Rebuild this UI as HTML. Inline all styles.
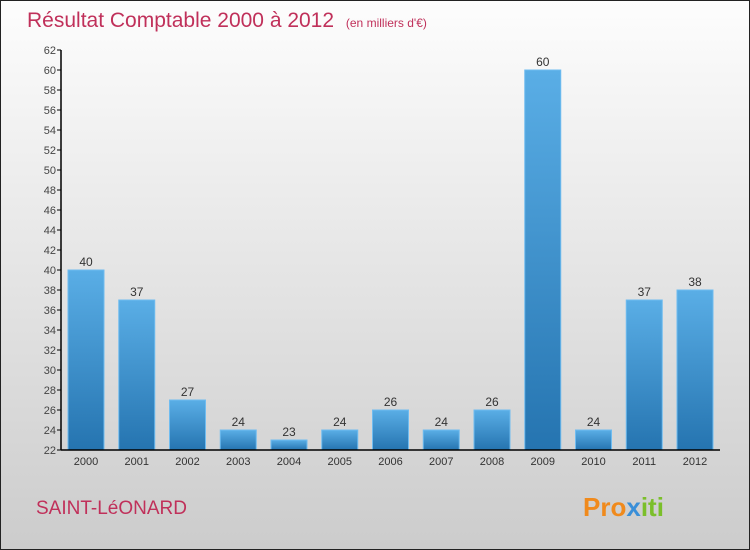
<!DOCTYPE html>
<html><head><meta charset="utf-8"><style>
body{margin:0;}
#wrap{position:relative;width:750px;height:550px;box-sizing:border-box;border:1px solid #222;background:linear-gradient(#fdfdfd,#cccccc);font-family:"Liberation Sans",sans-serif;overflow:hidden;}
</style></head><body>
<div id="wrap">
<svg id="c" width="750" height="550" style="position:absolute;left:-1px;top:-1px">
<defs><linearGradient id="g" x1="0" y1="0" x2="0" y2="1"><stop offset="0" stop-color="#5aaee6"/><stop offset="1" stop-color="#2574b0"/></linearGradient></defs>
<text x="27" y="27" font-size="21" fill="#c0305a">Résultat Comptable 2000 à 2012 <tspan font-size="12" dx="6">(en milliers d'€)</tspan></text>
<text x="36" y="514" font-size="19" fill="#c0305a">SAINT-LéONARD</text>
<text x="583" y="516" font-size="26" font-weight="bold" fill="#f08a1c">Pro<tspan fill="#3a8fd8">x</tspan><tspan fill="#7bbf2a">iti</tspan></text>
<g id="plot"></g>
</svg>
</div>
<script>
const categories=["2000","2001","2002","2003","2004","2005","2006","2007","2008","2009","2010","2011","2012"];
const values=[40,37,27,24,23,24,26,24,26,60,24,37,38];
const yTicks=[22,24,26,28,30,32,34,36,38,40,42,44,46,48,50,52,54,56,58,60,62];
const NS="http://www.w3.org/2000/svg";
const g=document.getElementById('plot');
const x0=61,yMin=22,yMax=62,yTop=50,yBot=450,step=50.75,bw=36;
const y=v=>yBot-(v-yMin)/(yMax-yMin)*(yBot-yTop);
const xc=i=>86+i*step;
function mk(t,a){const e=document.createElementNS(NS,t);for(const k in a)e.setAttribute(k,a[k]);g.appendChild(e);return e;}
yTicks.forEach(t=>{
  const l=mk('line',{x1:x0-4,x2:x0,y1:y(t),y2:y(t),stroke:'#000'});
  
  
  const tx=mk('text',{x:x0-5,y:y(t)+4,'font-size':11,'text-anchor':'end',fill:'#444'});
  tx.textContent=t;
  
  
});
categories.forEach((c,i)=>{
  const v=values[i];
  const r=mk('rect',{x:xc(i)-bw/2,y:y(v),width:bw,height:yBot-y(v),fill:'url(#g)',stroke:'#6fbcf0','stroke-width':1});
  
  
  const vl=mk('text',{x:xc(i),y:y(v)-4,'font-size':12,'text-anchor':'middle',fill:'#333'});
  vl.textContent=v;
  
  
  const cl=mk('text',{x:xc(i),y:yBot+15,'font-size':11,'text-anchor':'middle',fill:'#333'});
  cl.textContent=c;
  
  
});
const ya=mk('line',{x1:x0,x2:x0,y1:yTop,y2:yBot,stroke:'#000','stroke-width':1.5});


const xa=mk('line',{x1:x0,x2:720,y1:yBot,y2:yBot,stroke:'#000','stroke-width':1.5});


</script>
</body></html>
